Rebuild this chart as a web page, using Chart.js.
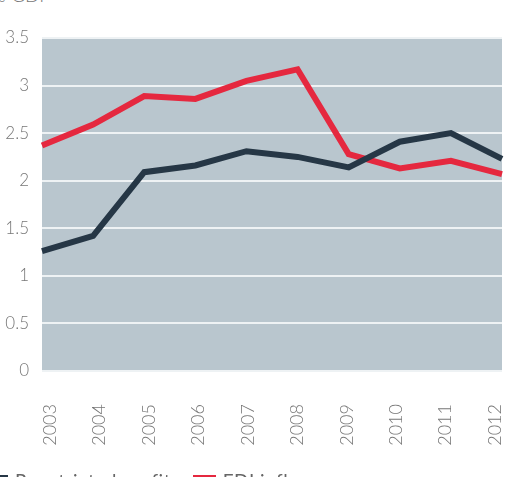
<!DOCTYPE html>
<html>
<head>
<meta charset="utf-8">
<script src="https://cdn.jsdelivr.net/npm/chart.js@4/dist/chart.umd.min.js"></script>
<style>
  html, body { margin: 0; padding: 0; background: #fff; overflow: hidden; }
  body { width: 506px; height: 477px; position: relative; font-family: Lato, "Open Sans", sans-serif; }
  #wrap { position: absolute; left: 0; top: 0; width: 506px; height: 477px; }
  #unit { position: absolute; left: -9px; top: -15px; font-size: 19px; line-height: 1; color: #777; font-weight: 300; white-space: nowrap; }
  #legend { position: absolute; left: -15px; top: 471px; font-size: 19px; line-height: 1; letter-spacing: 0.5px; color: #666; display: flex; gap: 13px; white-space: nowrap; }
  #legend span.box { display: inline-block; width: 23px; height: 12px; margin-right: 7px; vertical-align: 1px; }
</style>
</head>
<body>
<div id="unit">% GDP</div>
<div id="wrap"><canvas id="chart"></canvas></div>
<div id="legend"></div>
<script>
const years = ['2003', '2004', '2005', '2006', '2007', '2008', '2009', '2010', '2011', '2012'];
const repatriatedProfits = [1.26, 1.42, 2.09, 2.16, 2.31, 2.25, 2.14, 2.41, 2.50, 2.23];
const fdiInflows = [2.37, 2.59, 2.89, 2.86, 3.05, 3.17, 2.28, 2.13, 2.21, 2.07];
const yTicks = [0, 0.5, 1, 1.5, 2, 2.5, 3, 3.5];

const series = [
  { label: 'Repatriated profits', data: repatriatedProfits, color: '#263746' },
  { label: 'FDI inflows', data: fdiInflows, color: '#e5283f' }
];

// fill the plot area with the grey-blue panel
const panelBg = {
  id: 'panelBg',
  beforeDraw(chart) {
    const { ctx, chartArea: a } = chart;
    ctx.save();
    ctx.fillStyle = '#b9c6ce';
    ctx.fillRect(a.left, a.top, a.right - a.left, a.bottom - a.top);
    ctx.restore();
  }
};

const fontFamily = 'Lato, "Open Sans", sans-serif';

new Chart(document.getElementById('chart'), {
  type: 'line',
  data: {
    labels: years,
    datasets: series.map(s => ({
      label: s.label,
      data: s.data,
      borderColor: s.color,
      backgroundColor: s.color,
      borderWidth: 6,
      pointRadius: 0,
      tension: 0,
      borderJoinStyle: 'miter'
    }))
  },
  options: {
    responsive: true,
    maintainAspectRatio: false,
    animation: false,
    layout: { padding: { top: 38, right: 4, left: 0, bottom: 0 } },
    plugins: { legend: { display: false }, tooltip: { enabled: false } },
    scales: {
      x: {
        display: false,
        offset: false
      },
      // year labels sit slightly inside the panel edges, so they get their own axis
      yearAxis: {
        type: 'linear',
        position: 'bottom',
        min: -0.16,
        max: 9.14,
        afterBuildTicks(axis) { axis.ticks = years.map((_, i) => ({ value: i })); },
        grid: { display: false, drawTicks: false },
        border: { display: false },
        ticks: {
          font: { family: fontFamily, size: 18, weight: '300' },
          color: '#777',
          minRotation: 90,
          maxRotation: 90,
          padding: 33,
          autoSkip: false,
          callback: v => years[v]
        },
        afterFit(scale) {
          scale.paddingLeft = 0;
          scale.paddingRight = 0;
          scale.height = 106;
        }
      },
      y: {
        min: 0,
        max: 3.5,
        afterBuildTicks(axis) { axis.ticks = yTicks.map(v => ({ value: v })); },
        grid: { color: '#eef2f4', lineWidth: 2, drawTicks: false },
        border: { display: false },
        ticks: { font: { family: fontFamily, size: 17, weight: '300' }, color: '#777', padding: 13, callback: v => String(v) },
        afterFit(scale) {
          scale.paddingTop = 0;
          scale.paddingBottom = 0;
          scale.width = 42;
        }
      }
    }
  },
  plugins: [panelBg]
});

document.getElementById('legend').innerHTML = series.map(s =>
  `<div><span class="box" style="background:${s.color}"></span>${s.label}</div>`
).join('');
</script>
</body>
</html>
